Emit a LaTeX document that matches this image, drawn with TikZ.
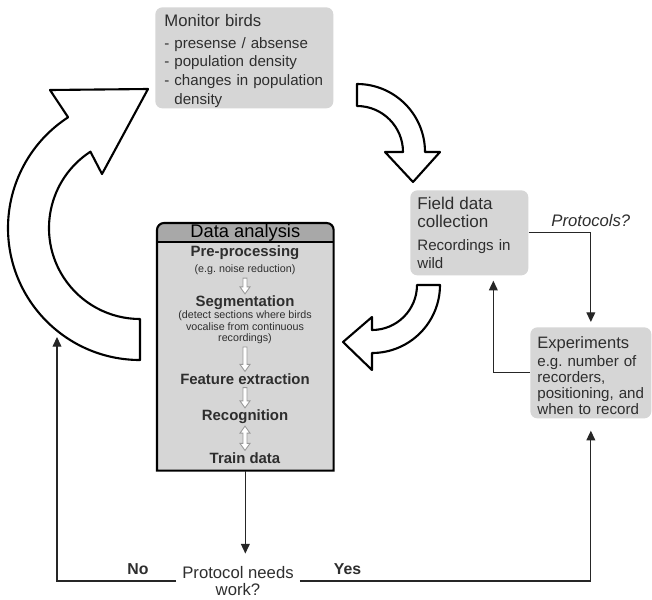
\documentclass[tikz,border=0pt]{standalone}
\usepackage{fontspec}
\setmainfont{Liberation Sans}
\usepackage{tikz}
\usetikzlibrary{arrows.meta,calc,positioning}

\definecolor{boxgray}{gray}{0.84}
\definecolor{headgray}{gray}{0.66}
\definecolor{inkgray}{gray}{0.18}

% hollow block arrow from #1 (top) down to #2 (tip)
\newcommand{\flowdown}[2]{%
  \filldraw[flowline] ($#1+(-2,1)$) -- ($#2+(-2,-7)$) -- ($#2+(-5,-7)$) -- #2
    -- ($#2+(5,-7)$) -- ($#2+(2,-7)$) -- ($#1+(2,1)$) -- cycle;}
% hollow block arrow with heads at #1 (top) and #2 (bottom)
\newcommand{\flowboth}[2]{%
  \filldraw[flowline] #1 -- ($#1+(5,7)$) -- ($#1+(2,7)$) -- ($#2+(2,-7)$) -- ($#2+(5,-7)$) -- #2
    -- ($#2+(-5,-7)$) -- ($#2+(-2,-7)$) -- ($#1+(-2,7)$) -- ($#1+(-5,7)$) -- cycle;}

\tikzset{
  infobox/.style={fill=boxgray, rounded corners=4pt, anchor=north west, inner ysep=0pt, align=left, text=inkgray},
  bigarrow/.style={draw=black, fill=white, line width=1.2pt, line join=round},
  stage/.style={font=\bfseries\fontsize{8.5}{9}\selectfont, text=inkgray, inner sep=1pt},
  stagenote/.style={font=\fontsize{6.1}{6.5}\selectfont, align=center, text=inkgray, inner sep=1pt},
  flowline/.style={draw=gray!80, fill=white, line width=0.5pt, line join=miter},
  link/.style={draw=black!85, line width=0.7pt, -{Triangle[length=5.5pt,width=5pt]}},
  answer/.style={font=\bfseries\fontsize{9}{10}\selectfont, text=inkgray},
}

\begin{document}
\begin{tikzpicture}[x=0.02cm, y=-0.02cm]
\path[fill=white] (0,0) rectangle (652,599);
\useasboundingbox (0,0) rectangle (652,599);

% the three big hollow arrows of the cycle
\draw[bigarrow] (140,360) arc[start angle=90, end angle=237, radius=132]
  -- (50,90) -- (148,89) -- (102,174) -- ($(140,228)+(237:91)$)
  arc[start angle=237, end angle=90, radius=91] -- cycle;
\draw[bigarrow] (357,84) arc[start angle=270, end angle=360, radius=68]
  -- (440,152) -- (413,182) -- (385,152) -- (403,152)
  arc[start angle=0, end angle=-90, radius=46] -- cycle;
\draw[bigarrow] (440,285) arc[start angle=0, end angle=90, radius=68]
  -- (372,370) -- (343,342) -- (372,317) -- (372,330)
  arc[start angle=90, end angle=0, radius=45] -- cycle;

% boxes
\node[infobox, inner xsep=0.18cm, text width=3.2cm, text height=0.38cm, text depth=1.64cm,
  font=\fontsize{8.6}{10.6}\selectfont] (monitor) at (155,7)
  {{\fontsize{9.5}{11}\selectfont Monitor birds}\\[1.9pt]
   - presense / absense\\
   - population density\\
   - changes in population\\
   \hphantom{-}\ density};
\node[infobox, inner xsep=0.14cm, text width=2.08cm, text height=0.38cm, text depth=1.32cm,
  font=\fontsize{8.6}{10.2}\selectfont] (field) at (410,190)
  {{\fontsize{9.7}{10.2}\selectfont Field data\\collection}\\[3.2pt]
   Recordings in\\wild};
\node[infobox, inner xsep=0.14cm, text width=2.14cm, text height=0.42cm, text depth=1.4cm,
  font=\fontsize{8.6}{9.1}\selectfont] (exper) at (530,327)
  {{\fontsize{9.4}{10}\selectfont Experiments}\\[1.4pt]
   e.g.\ number of\\recorders,\\positioning, and\\when to record};

% data analysis panel
\node[anchor=north west, inner sep=0pt, minimum width=3.52cm, minimum height=4.94cm] (da) at (157,223) {};
\fill[boxgray] (da.south west) [rounded corners=4pt] -- (da.north west) -- (da.north east)
  [sharp corners] -- (da.south east) -- cycle;
\fill[headgray] ($(da.north west)+(0,19)$) [rounded corners=4pt] -- (da.north west) -- (da.north east)
  [sharp corners] -- ($(da.north east)+(0,19)$) -- cycle;
\draw[line width=0.8pt] ($(da.north west)+(0,19)$) -- ($(da.north east)+(0,19)$);
\draw[line width=1.2pt] (da.south west) [rounded corners=4pt] -- (da.north west) -- (da.north east)
  [sharp corners] -- (da.south east) -- cycle;
\node[font=\fontsize{10.4}{12}\selectfont] (dahead) at ($(da.north)+(0,9.5)$) {Data analysis};

\node[stage] (pre) at (245,253) {Pre-processing};
\node[stagenote] (prenote) at (245,270) {(e.g.\ noise reduction)};
\node[stage] (seg) at (245,303) {Segmentation};
\node[stagenote] (segnote) at (245,327.5) {(detect sections where birds\\vocalise from continuous\\recordings)};
\node[stage] (feat) at (245,379) {Feature extraction};
\node[stage] (recog) at (245,417) {Recognition};
\node[stage] (train) at (245,458) {Train data};

\flowdown{(prenote.south)}{(seg.north)}
\flowdown{(segnote.south)}{(feat.north)}
\flowdown{(feat.south)}{(recog.north)}
\flowboth{(recog.south)}{(train.north)}

% decision and feedback lines
\node[font=\fontsize{9.5}{10.2}\selectfont, align=center, text=inkgray, inner ysep=0.24cm] (decision) at (238,581)
  {Protocol needs\\work?};
\coordinate (loopin) at (57,337);

\draw[link, shorten >=0.1cm] (field.east) -| node[above, font=\itshape\fontsize{9.5}{11}\selectfont, text=inkgray] {Protocols?} (exper.north);
\draw[link, shorten >=0.1cm] (exper.west) -| ([xshift=0.48cm]field.south);
\draw[link] (da.south) -- (da.south |- decision.north);
\draw[link] (decision.west) -| node[answer, above, pos=0.16] {No} (loopin);
\draw[link, shorten >=0.24cm] (decision.east) -| node[answer, above, pos=0.082] {Yes} (exper.south);
\end{tikzpicture}
\end{document}
